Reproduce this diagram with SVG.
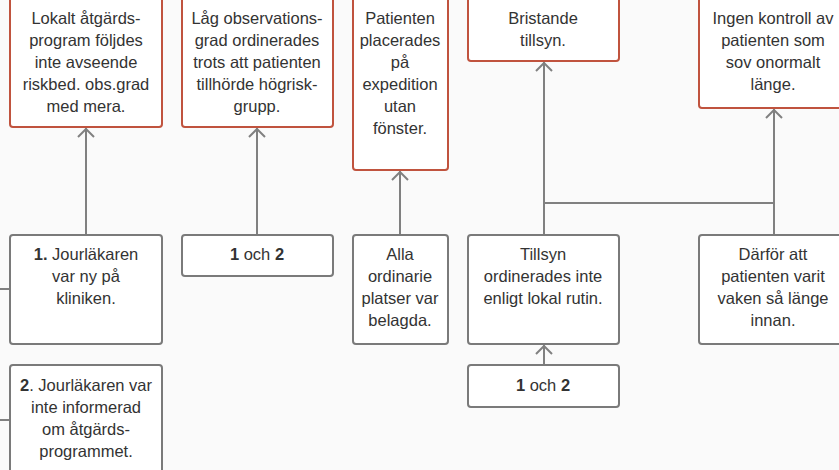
<svg xmlns="http://www.w3.org/2000/svg" width="839" height="470" viewBox="0 0 839 470">
<defs>
<style>
.red{fill:#ffffff;stroke:#c0533e;stroke-width:2}
.gray{fill:#ffffff;stroke:#7a7a7a;stroke-width:2}
text{font-family:"Liberation Sans",Arial,sans-serif;font-size:16.5px;fill:#333333;text-anchor:middle}
.b{font-weight:bold}
.c{fill:none;stroke:#808080;stroke-width:2}
</style>
</defs>
<rect x="0" y="0" width="839" height="470" fill="#fafafa"/>
<g id="connectors">
<path class="c" d="M86 235 V128"/>
<path class="c" d="M86 129 l-8 8 M86 129 l8 8"/>
<path class="c" d="M257 235 V128"/>
<path class="c" d="M257 129 l-8 8 M257 129 l8 8"/>
<path class="c" d="M400 235 V171"/>
<path class="c" d="M400 172 l-8 8 M400 172 l8 8"/>
<path class="c" d="M544 235 V62"/>
<path class="c" d="M544 63 l-8 8 M544 63 l8 8"/>
<path class="c" d="M774 235 V109"/>
<path class="c" d="M774 110 l-8 8 M774 110 l8 8"/>
<path class="c" d="M544 203 H774"/>
<path class="c" d="M544 365 V345"/>
<path class="c" d="M544 346 l-8 8 M544 346 l8 8"/>
<path class="c" d="M0 289 H10 M0 420 H10"/>
</g>
<g id="n1">
<rect class="red" x="10" y="-6" width="152" height="133" rx="3"/>
<text x="86" y="24">Lokalt åtgärds-</text>
<text x="86" y="46">program följdes</text>
<text x="86" y="68">inte avseende</text>
<text x="86" y="90">riskbed. obs.grad</text>
<text x="86" y="112">med mera.</text>
</g>
<g id="n2">
<rect class="red" x="182" y="-6" width="151" height="133" rx="3"/>
<text x="257" y="24">Låg observations-</text>
<text x="257" y="46">grad ordinerades</text>
<text x="257" y="68">trots att patienten</text>
<text x="257" y="90">tillhörde högrisk-</text>
<text x="257" y="112">grupp.</text>
</g>
<g id="n3">
<rect class="red" x="353" y="-6" width="95" height="176" rx="3"/>
<text x="400" y="24">Patienten</text>
<text x="400" y="46">placerades</text>
<text x="400" y="68">på</text>
<text x="400" y="90">expedition</text>
<text x="400" y="112">utan</text>
<text x="400" y="134">fönster.</text>
</g>
<g id="n4">
<rect class="red" x="468" y="-6" width="151" height="67" rx="3"/>
<text x="543" y="24">Bristande</text>
<text x="543" y="46">tillsyn.</text>
</g>
<g id="n5">
<rect class="red" x="699" y="-6" width="150" height="114" rx="3"/>
<text x="773" y="24">Ingen kontroll av</text>
<text x="773" y="46">patienten som</text>
<text x="773" y="68">sov onormalt</text>
<text x="773" y="90">länge.</text>
</g>
<g id="n6">
<rect class="gray" x="10" y="235" width="152" height="109" rx="3"/>
<text x="86" y="260"><tspan class="b">1.</tspan> Jourläkaren</text>
<text x="86" y="282">var ny på</text>
<text x="86" y="304">kliniken.</text>
</g>
<g id="n7">
<rect class="gray" x="182" y="235" width="151" height="41" rx="3"/>
<text x="257" y="260"><tspan class="b">1</tspan> och <tspan class="b">2</tspan></text>
</g>
<g id="n8">
<rect class="gray" x="10" y="365" width="152" height="115" rx="3"/>
<text x="86" y="391"><tspan class="b">2</tspan>. Jourläkaren var</text>
<text x="86" y="413">inte informerad</text>
<text x="86" y="435">om åtgärds-</text>
<text x="86" y="457">programmet.</text>
</g>
<g id="n9">
<rect class="gray" x="353" y="235" width="95" height="109" rx="3"/>
<text x="400" y="260">Alla</text>
<text x="400" y="282">ordinarie</text>
<text x="400" y="304">platser var</text>
<text x="400" y="326">belagda.</text>
</g>
<g id="n10">
<rect class="gray" x="468" y="235" width="151" height="109" rx="3"/>
<text x="543" y="260">Tillsyn</text>
<text x="543" y="282">ordinerades inte</text>
<text x="543" y="304">enligt lokal rutin.</text>
</g>
<g id="n11">
<rect class="gray" x="699" y="235" width="150" height="109" rx="3"/>
<text x="773" y="260">Därför att</text>
<text x="773" y="282">patienten varit</text>
<text x="773" y="304">vaken så länge</text>
<text x="773" y="326">innan.</text>
</g>
<g id="n12">
<rect class="gray" x="468" y="365" width="151" height="42" rx="3"/>
<text x="543" y="391"><tspan class="b">1</tspan> och <tspan class="b">2</tspan></text>
</g>
</svg>
